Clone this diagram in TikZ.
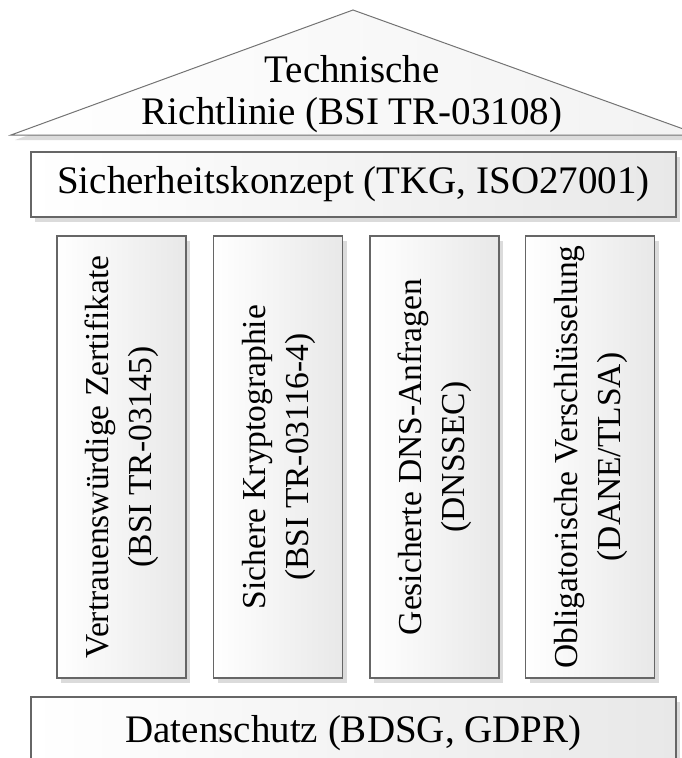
\documentclass[tikz,border=0pt]{standalone}
\usepackage{fontspec}
\setmainfont{Liberation Serif}
\usetikzlibrary{shadows}

\tikzset{
  boxshadow/.style={drop shadow={shadow xshift=4pt, shadow yshift=-5pt, fill=black!14, opacity=1}},
  layer/.style={draw=black!60, line width=1.2pt, left color=white, right color=black!9,
    boxshadow, inner sep=0pt, font=\fontsize{39}{42}\selectfont},
  pillar/.style={layer, minimum width=129pt, minimum height=442pt, font=\fontsize{33.5}{43}\selectfont},
  roof/.style={draw=black!55, line width=1pt, left color=white, right color=black!5, boxshadow},
}

\begin{document}
\begin{tikzpicture}[x=1pt, y=-1pt]
				\path[use as bounding box] (0,0) rectangle (682,758);
				\clip (0,0) rectangle (682,758);
				
				% Roof
				\draw[roof] (11,135) -- (353,10) -- (700,135) -- cycle;
				\node[align=center, inner sep=0pt, font=\fontsize{39}{42}\selectfont] (richtlinie) at (352,94) {Technische\\Richtlinie (BSI TR-03108)};
				
				% Security concept
				\node[layer, minimum width=645pt, minimum height=65pt] (konzept) at (353.5,184.5) {Sicherheitskonzept (TKG, ISO27001)};
				
				% Pillars
				\node[pillar] (zertifikate) at (121.5,457) {\rotatebox{90}{\begin{tabular}{@{}c@{}}Vertrauenswürdige Zertifikate\\(BSI TR-03145)\end{tabular}}};
				\node[pillar] (krypto) at (278,457) {\rotatebox{90}{\begin{tabular}{@{}c@{}}Sichere Kryptographie\\(BSI TR-03116-4)\end{tabular}}};
				\node[pillar] (dnssec) at (434.5,457) {\rotatebox{90}{\begin{tabular}{@{}c@{}}Gesicherte DNS-Anfragen\\(DNSSEC)\end{tabular}}};
				\node[pillar] (dane) at (590,457) {\rotatebox{90}{\begin{tabular}{@{}c@{}}Obligatorische Verschlüsselung\\(DANE/TLSA)\end{tabular}}};
				
				% Data protection (base)
				\node[layer, minimum width=645pt, minimum height=72pt] (datenschutz) at (353.5,733) {Datenschutz (BDSG, GDPR)};
			\end{tikzpicture}
\end{document}
